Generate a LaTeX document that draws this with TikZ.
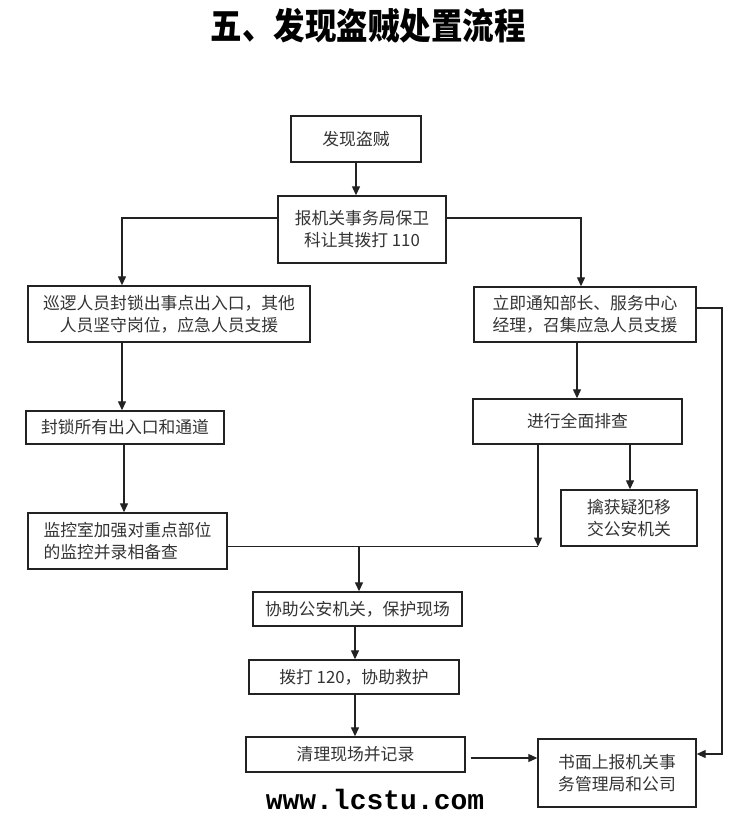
\documentclass[tikz,border=0pt]{standalone}
\usepackage{fontspec}
\newfontfamily\cjk{Noto Sans CJK SC}
\newfontfamily\wmfont{Liberation Mono}
\usetikzlibrary{arrows.meta}
\definecolor{ink}{HTML}{222222}
\definecolor{txt}{HTML}{333333}
\begin{document}
\begin{tikzpicture}[x=1pt,y=-1pt,
  box/.style={draw=ink,line width=1.4pt,inner sep=0pt,align=center,text=txt,
    font=\cjk\fontsize{16.8}{22}\selectfont},
  arr/.style={draw=ink,line width=1.3pt,-{Triangle[length=9pt,width=8pt]}},
  ln/.style={draw=ink,line width=1.3pt}]
\useasboundingbox[fill=white] (0,0) rectangle (752,821);
\node[font=\cjk\bfseries\fontsize{31.5}{36}\selectfont,yscale=1.15] (title) at (368,26) {五、发现盗贼处置流程};
\node[box,minimum width=130pt,minimum height=46pt] (b1) at (356,139) {发现盗贼};
\node[box,minimum width=168pt,minimum height=67pt] (b2) at (362,229.5) {报机关事务局保卫\\科让其拨打 110};
\node[box,minimum width=282pt,minimum height=56pt] (b3) at (169,314) {巡逻人员封锁出事点出入口，其他\\人员坚守岗位，应急人员支援};
\node[box,minimum width=222pt,minimum height=55pt] (b4) at (585,314.5) {立即通知部长、服务中心\\经理，召集应急人员支援};
\node[box,minimum width=209pt,minimum height=45pt] (b5) at (577.5,421.5) {进行全面排查};
\node[box,minimum width=136pt,minimum height=56pt] (b6) at (629,518) {擒获疑犯移\\交公安机关};
\node[box,minimum width=198pt,minimum height=33pt] (b7) at (125,427.5) {封锁所有出入口和通道};
\node[box,minimum width=199pt,minimum height=56pt,align=left] (b8) at (127.5,541) {监控室加强对重点部位\\的监控并录相备查};
\node[box,minimum width=209pt,minimum height=34pt] (b9) at (357.5,609) {协助公安机关，保护现场};
\node[box,minimum width=210pt,minimum height=34pt] (b10) at (354,677) {拨打 120，协助救护};
\node[box,minimum width=219pt,minimum height=35pt] (b11) at (355.5,754.5) {清理现场并记录};
\node[box,minimum width=158pt,minimum height=68pt] (b12) at (617,773) {书面上报机关事\\务管理局和公司};
\node[font=\wmfont\bfseries\fontsize{28}{30}\selectfont,text=black] (wm) at (375,799) {www.lcstu.com};
% coordinates
\coordinate (jl) at (122,218);
\coordinate (jr) at (581,218);
\coordinate (ja) at (722,308);
\coordinate (jb) at (722,754);
\coordinate (jm) at (359,546.5);
\coordinate (je) at (538,546.5);
\coordinate (x1) at (356,0);
\coordinate (x4) at (577,0);
\coordinate (x5) at (630,0);
\coordinate (x7) at (124,0);
\coordinate (x9) at (355,0);
% connectors
\draw[arr] (b1.south -| x1) -- (b2.north -| x1);
\draw[arr] (b2.west |- jl) -- (jl) -- (jl |- b3.north);
\draw[arr] (b2.east |- jr) -- (jr) -- (jr |- b4.north);
\draw[arr] (b4.south -| x4) -- (b5.north -| x4);
\draw[arr] (b4.east |- ja) -- (ja) -- (jb) -- (b12.east |- jb);
\draw[arr] (b5.south -| x5) -- (b6.north -| x5);
\draw[arr] (b5.south -| je) -- (je);
\draw[arr] (jl |- b3.south) -- (jl |- b7.north);
\draw[arr] (b7.south -| x7) -- (b8.north -| x7);
\draw[ln] (b8.east |- jm) -- (je);
\draw[arr] (jm) -- (jm |- b9.north);
\draw[arr] (b9.south -| x9) -- (b10.north -| x9);
\draw[arr] (b10.south -| x9) -- (b11.north -| x9);
\draw[arr,shorten <=5pt,line width=1.1pt] (b11.east |- 0,758) -- (b12.west |- 0,758);
\end{tikzpicture}
\end{document}
